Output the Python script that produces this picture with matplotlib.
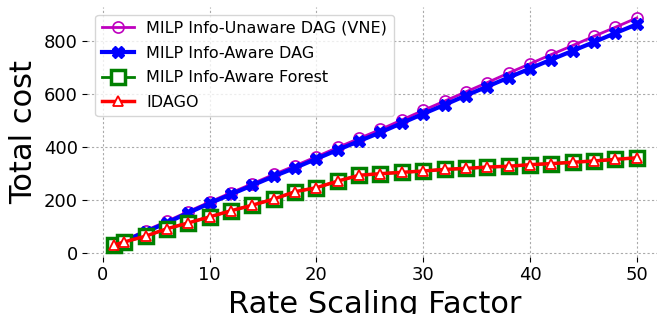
import matplotlib
matplotlib.use("Agg")
import matplotlib.pyplot as plt

# rate scaling factors
x = [1, 2, 4, 6, 8, 10, 12, 14, 16, 18, 20, 22, 24, 26, 28, 30,
     32, 34, 36, 38, 40, 42, 44, 46, 48, 50]

# total cost per method
vne = [32, 48, 85, 120, 157, 193, 228, 262, 297, 330, 364, 399, 433, 467,
       503, 539, 574, 609, 644, 680, 715, 750, 784, 819, 853, 888]
dag = [30, 45, 80, 115, 152, 188, 222, 256, 290, 322, 356, 390, 423, 456,
       491, 526, 560, 595, 629, 663, 697, 731, 764, 797, 831, 864]
forest = [30, 42, 64, 92, 114, 137, 160, 181, 204, 232, 247, 272, 294, 300,
          305, 310, 316, 320, 325, 328, 334, 338, 343, 348, 354, 360]
idago = [30, 42, 64, 92, 114, 137, 160, 181, 204, 232, 247, 272, 294, 300,
         305, 310, 316, 320, 325, 328, 334, 338, 343, 348, 354, 360]

fig = plt.figure(figsize=(6.57, 3.14), dpi=100)
ax = fig.add_axes([0.133, 0.183, 0.876, 0.796])

ax.plot(x, vne, color='m', lw=2, marker='o', ms=8, mfc='none', mew=1.2,
        label='MILP Info-Unaware DAG (VNE)')
ax.plot(x, dag, color='b', lw=3, marker='X', ms=8,
        label='MILP Info-Aware DAG')
ax.plot(x, forest, color='g', lw=2, marker='s', ms=9.5, mfc='white', mew=2.5,
        label='MILP Info-Aware Forest')
ax.plot(x, idago, color='r', lw=2.5, marker='^', ms=7, mfc='white', mew=1.3,
        label='IDAGO')

ax.set_xlim(-1.45, 52.45)
ax.set_ylim(-13, 931)
ax.set_xticks([0, 10, 20, 30, 40, 50])
ax.set_yticks([0, 200, 400, 600, 800])
ax.tick_params(labelsize=13)
for s in ax.spines.values():
    s.set_visible(False)
ax.grid(True, color='#aaaaaa', linestyle=(0, (2, 2)), linewidth=0.8)
ax.set_axisbelow(True)

ax.set_xlabel('Rate Scaling Factor', fontsize=22)
ax.set_ylabel('Total cost', fontsize=22)
ax.legend(loc='upper left', fontsize=11.5, handlelength=2, labelspacing=0.6)

fig.savefig('out.png', dpi=100)
